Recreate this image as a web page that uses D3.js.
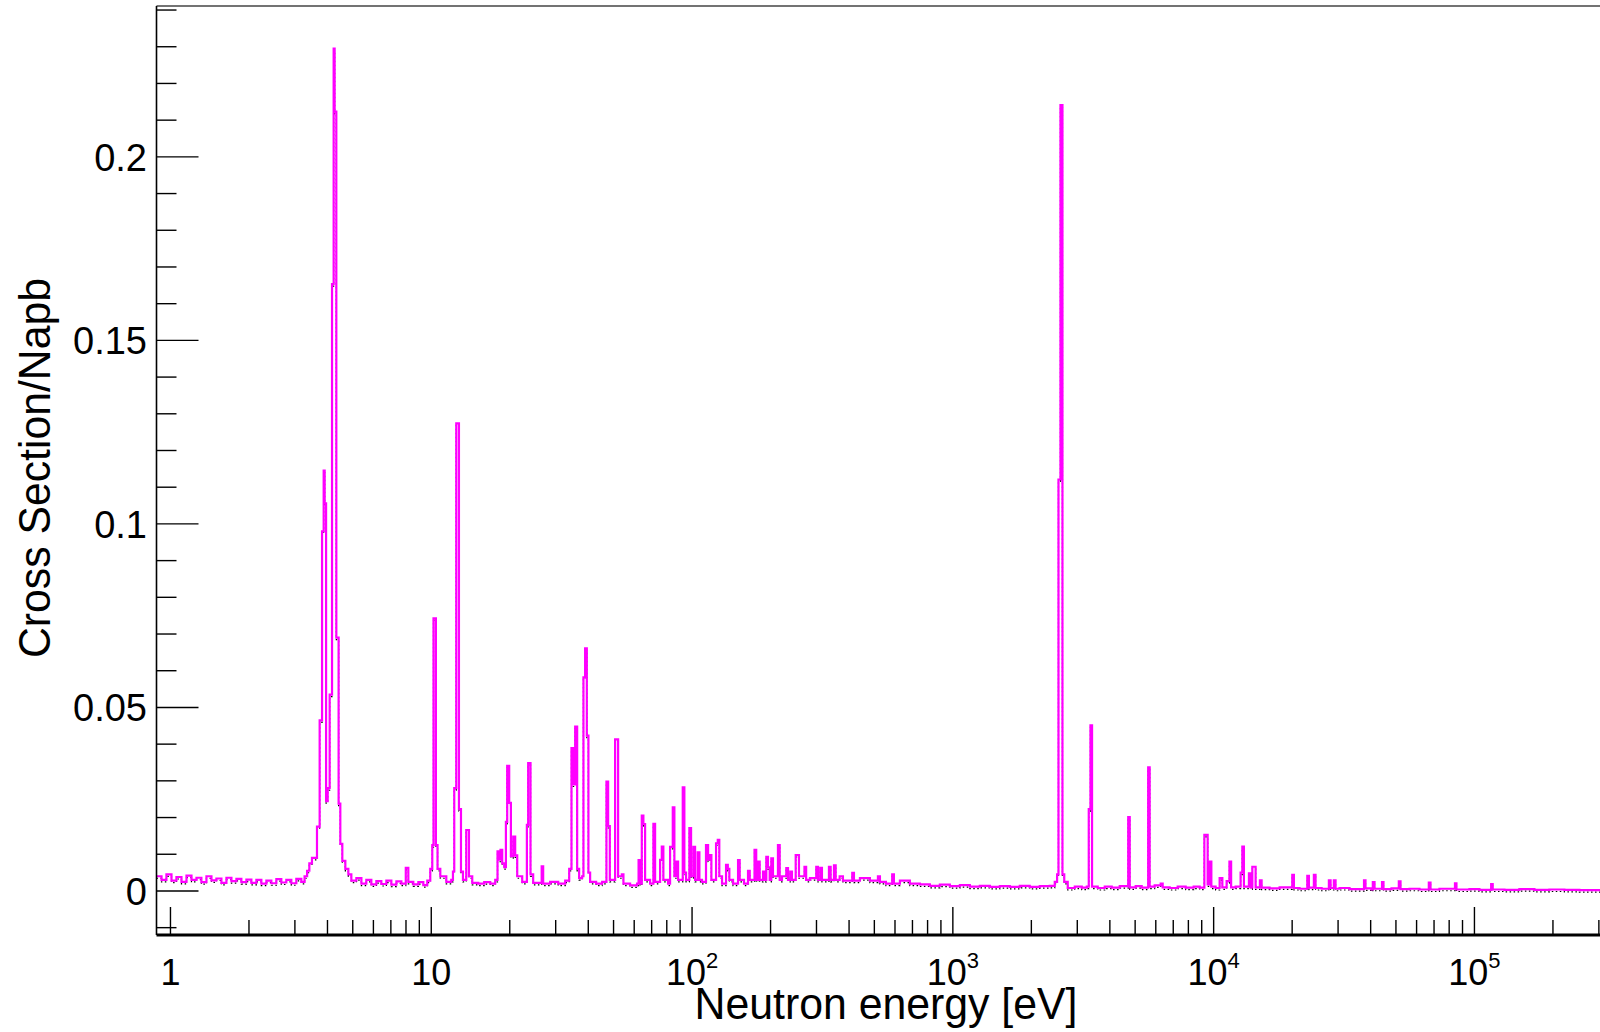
<!DOCTYPE html>
<html>
<head>
<meta charset="utf-8">
<script src="https://cdn.jsdelivr.net/npm/d3@7"></script>
<style>
  html, body { margin: 0; padding: 0; background: #fff; }
  svg { display: block; }
  text { font-family: "Liberation Sans", Arial, Helvetica, sans-serif; fill: #000; }
</style>
</head>
<body>
<svg id="chart" width="1600" height="1032"></svg>
<script>
// ---------------- DATA ----------------
// Histogram bins: low edge of each bin (eV) and its content (cross section / Napb)
const binLowEdgeEV = [
  0.884,0.924,0.965,1.009,1.054,1.102,1.152,1.204,1.258,1.314,1.374,1.436,1.500,1.568,1.639,1.713,1.790,1.870,1.955,2.043,
  2.135,2.231,2.332,2.437,2.547,2.661,2.781,2.907,3.038,3.175,
  3.268,3.342,3.408,3.488,3.646,3.733,3.813,3.868,3.902,3.951,4.007,4.078,4.164,4.224,4.261,4.325,4.413,4.480,4.560,4.683,4.809,
  4.938,5.162,5.396,5.636,5.891,6.158,6.436,6.727,7.030,7.349,7.680,7.986,8.167,8.535,8.922,9.325,9.654,
  9.913,10.09,10.20,10.42,10.57,10.83,11.42,11.93,12.11,12.25,12.47,12.77,13.00,13.23,13.62,13.95,14.36,15.14,15.96,16.83,17.59,
  17.95,18.22,18.43,18.71,19.05,19.33,19.55,19.90,20.20,20.62,20.98,21.36,22.32,23.26,23.53,24.02,24.59,26.51,26.86,28.57,30.67,
  32.63,33.80,34.49,35.01,35.63,36.26,36.90,37.89,38.33,38.90,39.49,40.05,40.66,42.87,45.21,46.96,47.66,48.38,50.70,52.06,53.79,
  54.56,57.87,61.54,62.37,63.21,64.16,65.07,66.06,69.04,71.08,72.16,75.41,76.55,77.62,80.91,82.36,84.35,85.55,86.84,88.39,92.12,
  93.43,94.84,97.65,99.13,101.2,102.7,105.1,106.7,109.2,113.1,115.2,116.9,118.6,123.6,125.5,127.2,130.3,135.0,137.1,139.0,143.6,
  150.1,152.3,158.2,163.9,166.4,173.6,176.2,179.0,181.7,187.1,189.9,192.6,195.5,198.5,201.3,204.3,213.5,216.8,221.2,229.8,233.3,
  238.1,241.6,249.7,257.0,269.8,273.8,283.2,299.4,303.9,310.1,314.8,334.9,340.0,350.1,355.4,368.1,378.9,411.4,417.6,440.3,480.8,
  516.1,525.3,553.8,585.4,594.3,626.6,684.2,747.4,816.3,891.6,973.9,1064,1162,1269,1387,1514,1654,1806,1972,2154,2353,2459,
  2510,2541,2586,2632,2674,2757,2934,3121,3262,3320,3370,3418,3594,3823,4067,4364,4704,4767,5024,5298,5610,5685,5941,6266,6377,
  6783,7278,7812,8383,8840,9213,9485,9654,9799,10177,10544,10798,11215,11495,11668,12141,12688,12882,13064,13655,13862,14071,
  14485,15045,15273,16392,17902,20020,20310,21350,22860,23190,24230,24590,25940,27660,28080,28900,29340,30390,33200,37720,38220,
  40310,40770,41390,44220,44800,48080,51290,52070,56360,61560,66840,67850,73430,84210,85320,95680,104500,115900,117500,130300,
  148700,169800,193800,221200,252600
];
const binContent = [
  0.0040,0.0030,0.0045,0.0028,0.0038,0.0025,0.0042,0.0030,0.0036,0.0024,0.0040,0.0029,0.0034,0.0022,0.0036,0.0027,0.0033,0.0024,0.0031,0.0022,
  0.0030,0.0020,0.0028,0.0021,0.0032,0.0023,0.0030,0.0021,0.0033,0.0025,
  0.0040,0.0055,0.0075,0.0090,0.0175,0.0465,0.0980,0.1145,0.1056,0.0245,0.0280,0.0535,0.1653,0.2295,0.2123,0.0690,0.0238,0.0128,0.0082,0.0060,0.0045,
  0.0028,0.0035,0.0020,0.0030,0.0018,0.0027,0.0019,0.0028,0.0017,0.0026,0.0020,0.0063,0.0025,0.0018,0.0024,0.0016,0.0028,
  0.0060,0.0125,0.0743,0.0125,0.0060,0.0040,0.0025,0.0030,0.0053,0.0280,0.1274,0.0223,0.0053,0.0030,0.0166,0.0040,0.0022,0.0020,0.0024,0.0020,0.0030,
  0.0108,0.0085,0.0112,0.0075,0.0065,0.0188,0.0341,0.0240,0.0095,0.0148,0.0097,0.0040,0.0025,0.0180,0.0348,0.0045,0.0022,0.0067,0.0020,0.0025,0.0020,
  0.0028,0.0060,0.0389,0.0290,0.0448,0.0060,0.0035,0.0040,0.0582,0.0661,0.0423,0.0050,0.0025,0.0020,0.0025,0.0298,0.0177,0.0030,0.0413,0.0040,0.0045,
  0.0020,0.0015,0.0020,0.0084,0.0020,0.0205,0.0182,0.0030,0.0020,0.0183,0.0025,0.0085,0.0121,0.0030,0.0020,0.0120,0.0228,0.0040,0.0080,0.0030,0.0282,
  0.0050,0.0030,0.0171,0.0040,0.0120,0.0030,0.0105,0.0030,0.0025,0.0125,0.0085,0.0098,0.0030,0.0130,0.0139,0.0040,0.0020,0.0071,0.0060,0.0030,0.0020,
  0.0084,0.0030,0.0020,0.0055,0.0030,0.0112,0.0030,0.0080,0.0030,0.0053,0.0030,0.0093,0.0064,0.0030,0.0089,0.0040,0.0125,0.0030,0.0040,0.0062,0.0030,
  0.0053,0.0030,0.0098,0.0040,0.0066,0.0030,0.0035,0.0066,0.0030,0.0063,0.0030,0.0066,0.0030,0.0070,0.0030,0.0040,0.0028,0.0049,0.0028,0.0035,0.0028,
  0.0040,0.0025,0.0020,0.0045,0.0020,0.0028,0.0020,0.0018,0.0014,0.0017,0.0013,0.0016,0.0012,0.0014,0.0011,0.0013,0.0011,0.0014,0.0011,0.0013,0.0014,0.0025,
  0.0045,0.1121,0.2141,0.0045,0.0025,0.0008,0.0012,0.0009,0.0012,0.0223,0.0451,0.0012,0.0008,0.0012,0.0009,0.0013,0.0201,0.0010,0.0013,0.0009,0.0337,0.0012,0.0015,0.0020,0.0010,
  0.0008,0.0012,0.0009,0.0012,0.0009,0.0153,0.0018,0.0080,0.0012,0.0008,0.0035,0.0010,0.0027,0.0080,0.0010,0.0012,0.0050,0.0121,0.0012,0.0048,0.0010,0.0066,
  0.0010,0.0029,0.0009,0.0007,0.0010,0.0044,0.0008,0.0006,0.0041,0.0009,0.0044,0.0008,0.0006,0.0029,0.0008,0.0029,0.0006,0.0008,0.0005,0.0029,0.0007,
  0.0004,0.0024,0.0006,0.0024,0.0005,0.0007,0.0026,0.0005,0.0006,0.0004,0.0023,0.0004,0.0006,0.0021,0.0004,0.0005,0.0003,0.0019,0.0004,0.0003,
  0.0005,0.0003,0.0004,0.0003,0.0002
];
const lastBinHighEdgeEV = 303000;

// Axis ranges and ticks
const xRangeEV = [0.884, 303000];
const yRange = [-0.012, 0.2411];
const yMajorTicks = [0, 0.05, 0.1, 0.15, 0.2];
const yMajorLabels = ["0", "0.05", "0.1", "0.15", "0.2"];
const yMinorTicks = [-0.01,0.01,0.02,0.03,0.04,0.06,0.07,0.08,0.09,0.11,0.12,0.13,0.14,0.16,0.17,0.18,0.19,0.21,0.22,0.23,0.24];
const xDecadeTicks = [1, 10, 100, 1000, 10000, 100000];
const xDecadeBase = ["1", "10", "10", "10", "10", "10"];
const xDecadeExp = ["", "", "2", "3", "4", "5"];
const xMinorMultipliers = [2, 3, 4, 5, 6, 7, 8, 9];
const xTitle = "Neutron energy [eV]";
const yTitle = "Cross Section/Napb";

// ---------------- DRAWING ----------------
const svg = d3.select("#chart");
const plot = { left: 156.5, right: 1600, top: 6, bottom: 935 };

const x = d3.scaleLog().domain(xRangeEV).range([plot.left, plot.right]);
const y = d3.scaleLinear().domain(yRange).range([plot.bottom, plot.top]);

svg.append("defs").append("clipPath").attr("id", "plotclip")
  .append("rect").attr("x", plot.left).attr("y", plot.top)
  .attr("width", plot.right - plot.left).attr("height", plot.bottom - plot.top);

const bins = binLowEdgeEV.map((e, i) => ({ e, v: binContent[i] }));
bins.push({ e: lastBinHighEdgeEV, v: binContent[binContent.length - 1] });

const step = d3.line()
  .x(d => x(d.e))
  .y(d => y(d.v))
  .curve(d3.curveStepAfter);

const g = svg.append("g").attr("clip-path", "url(#plotclip)");

// black underlying histogram (data points), drawn slightly below
g.append("path")
  .attr("d", step(bins))
  .attr("transform", "translate(0,2)")
  .attr("fill", "none")
  .attr("stroke", "#000")
  .attr("stroke-width", 1.2)
  .attr("stroke-dasharray", "1.5,2.5");

// magenta histogram
g.append("path")
  .attr("d", step(bins))
  .attr("fill", "none")
  .attr("stroke", "#ff00ff")
  .attr("stroke-width", 2.2)
  .attr("stroke-linejoin", "miter");

// frame top line
svg.append("line")
  .attr("x1", plot.left).attr("x2", plot.right)
  .attr("y1", plot.top).attr("y2", plot.top)
  .attr("stroke", "#444").attr("stroke-width", 1.5);

// Y axis
const ya = svg.append("g");
ya.append("line").attr("x1", plot.left).attr("x2", plot.left)
  .attr("y1", plot.top).attr("y2", plot.bottom)
  .attr("stroke", "#000").attr("stroke-width", 1.6);
ya.selectAll("line.ymaj").data(yMajorTicks).enter().append("line")
  .attr("class", "ymaj")
  .attr("x1", plot.left).attr("x2", plot.left + 42)
  .attr("y1", d => y(d)).attr("y2", d => y(d))
  .attr("stroke", "#000").attr("stroke-width", 1.4);
ya.selectAll("line.ymin").data(yMinorTicks).enter().append("line")
  .attr("class", "ymin")
  .attr("x1", plot.left).attr("x2", plot.left + 20)
  .attr("y1", d => y(d)).attr("y2", d => y(d))
  .attr("stroke", "#000").attr("stroke-width", 1.4);
ya.selectAll("text.ylab").data(yMajorTicks).enter().append("text")
  .attr("class", "ylab")
  .attr("x", 147)
  .attr("y", d => y(d) + 14)
  .attr("text-anchor", "end")
  .attr("font-size", 38)
  .text((d, i) => yMajorLabels[i]);

// X axis
const xa = svg.append("g");
xa.append("line").attr("x1", plot.left).attr("x2", plot.right)
  .attr("y1", plot.bottom).attr("y2", plot.bottom)
  .attr("stroke", "#000").attr("stroke-width", 3);
const xMinor = [];
xDecadeTicks.forEach(dec => xMinorMultipliers.forEach(m => {
  const v = dec * m;
  if (v > xRangeEV[0] && v < xRangeEV[1]) xMinor.push(v);
}));
xa.selectAll("line.xmaj").data(xDecadeTicks).enter().append("line")
  .attr("class", "xmaj")
  .attr("x1", d => x(d)).attr("x2", d => x(d))
  .attr("y1", plot.bottom).attr("y2", plot.bottom - 28)
  .attr("stroke", "#000").attr("stroke-width", 1.4);
xa.selectAll("line.xmin").data(xMinor).enter().append("line")
  .attr("class", "xmin")
  .attr("x1", d => x(d)).attr("x2", d => x(d))
  .attr("y1", plot.bottom).attr("y2", plot.bottom - 15)
  .attr("stroke", "#000").attr("stroke-width", 1.4);
const xl = xa.selectAll("text.xlab").data(xDecadeTicks).enter().append("text")
  .attr("class", "xlab")
  .attr("x", d => x(d))
  .attr("y", 985)
  .attr("text-anchor", "middle")
  .attr("font-size", 36);
xl.append("tspan").text((d, i) => xDecadeBase[i]);
xl.filter((d, i) => xDecadeExp[i] !== "").append("tspan")
  .attr("dy", -17)
  .attr("font-size", 22)
  .text(d => xDecadeExp[xDecadeTicks.indexOf(d)]);

// Titles
svg.append("text")
  .attr("x", 886).attr("y", 1019)
  .attr("text-anchor", "middle")
  .attr("font-size", 45)
  .attr("textLength", 383)
  .attr("lengthAdjust", "spacingAndGlyphs")
  .text(xTitle);
svg.append("text")
  .attr("transform", "translate(50,468) rotate(-90)")
  .attr("text-anchor", "middle")
  .attr("font-size", 45)
  .attr("textLength", 380)
  .attr("lengthAdjust", "spacingAndGlyphs")
  .text(yTitle);
</script>
</body>
</html>
